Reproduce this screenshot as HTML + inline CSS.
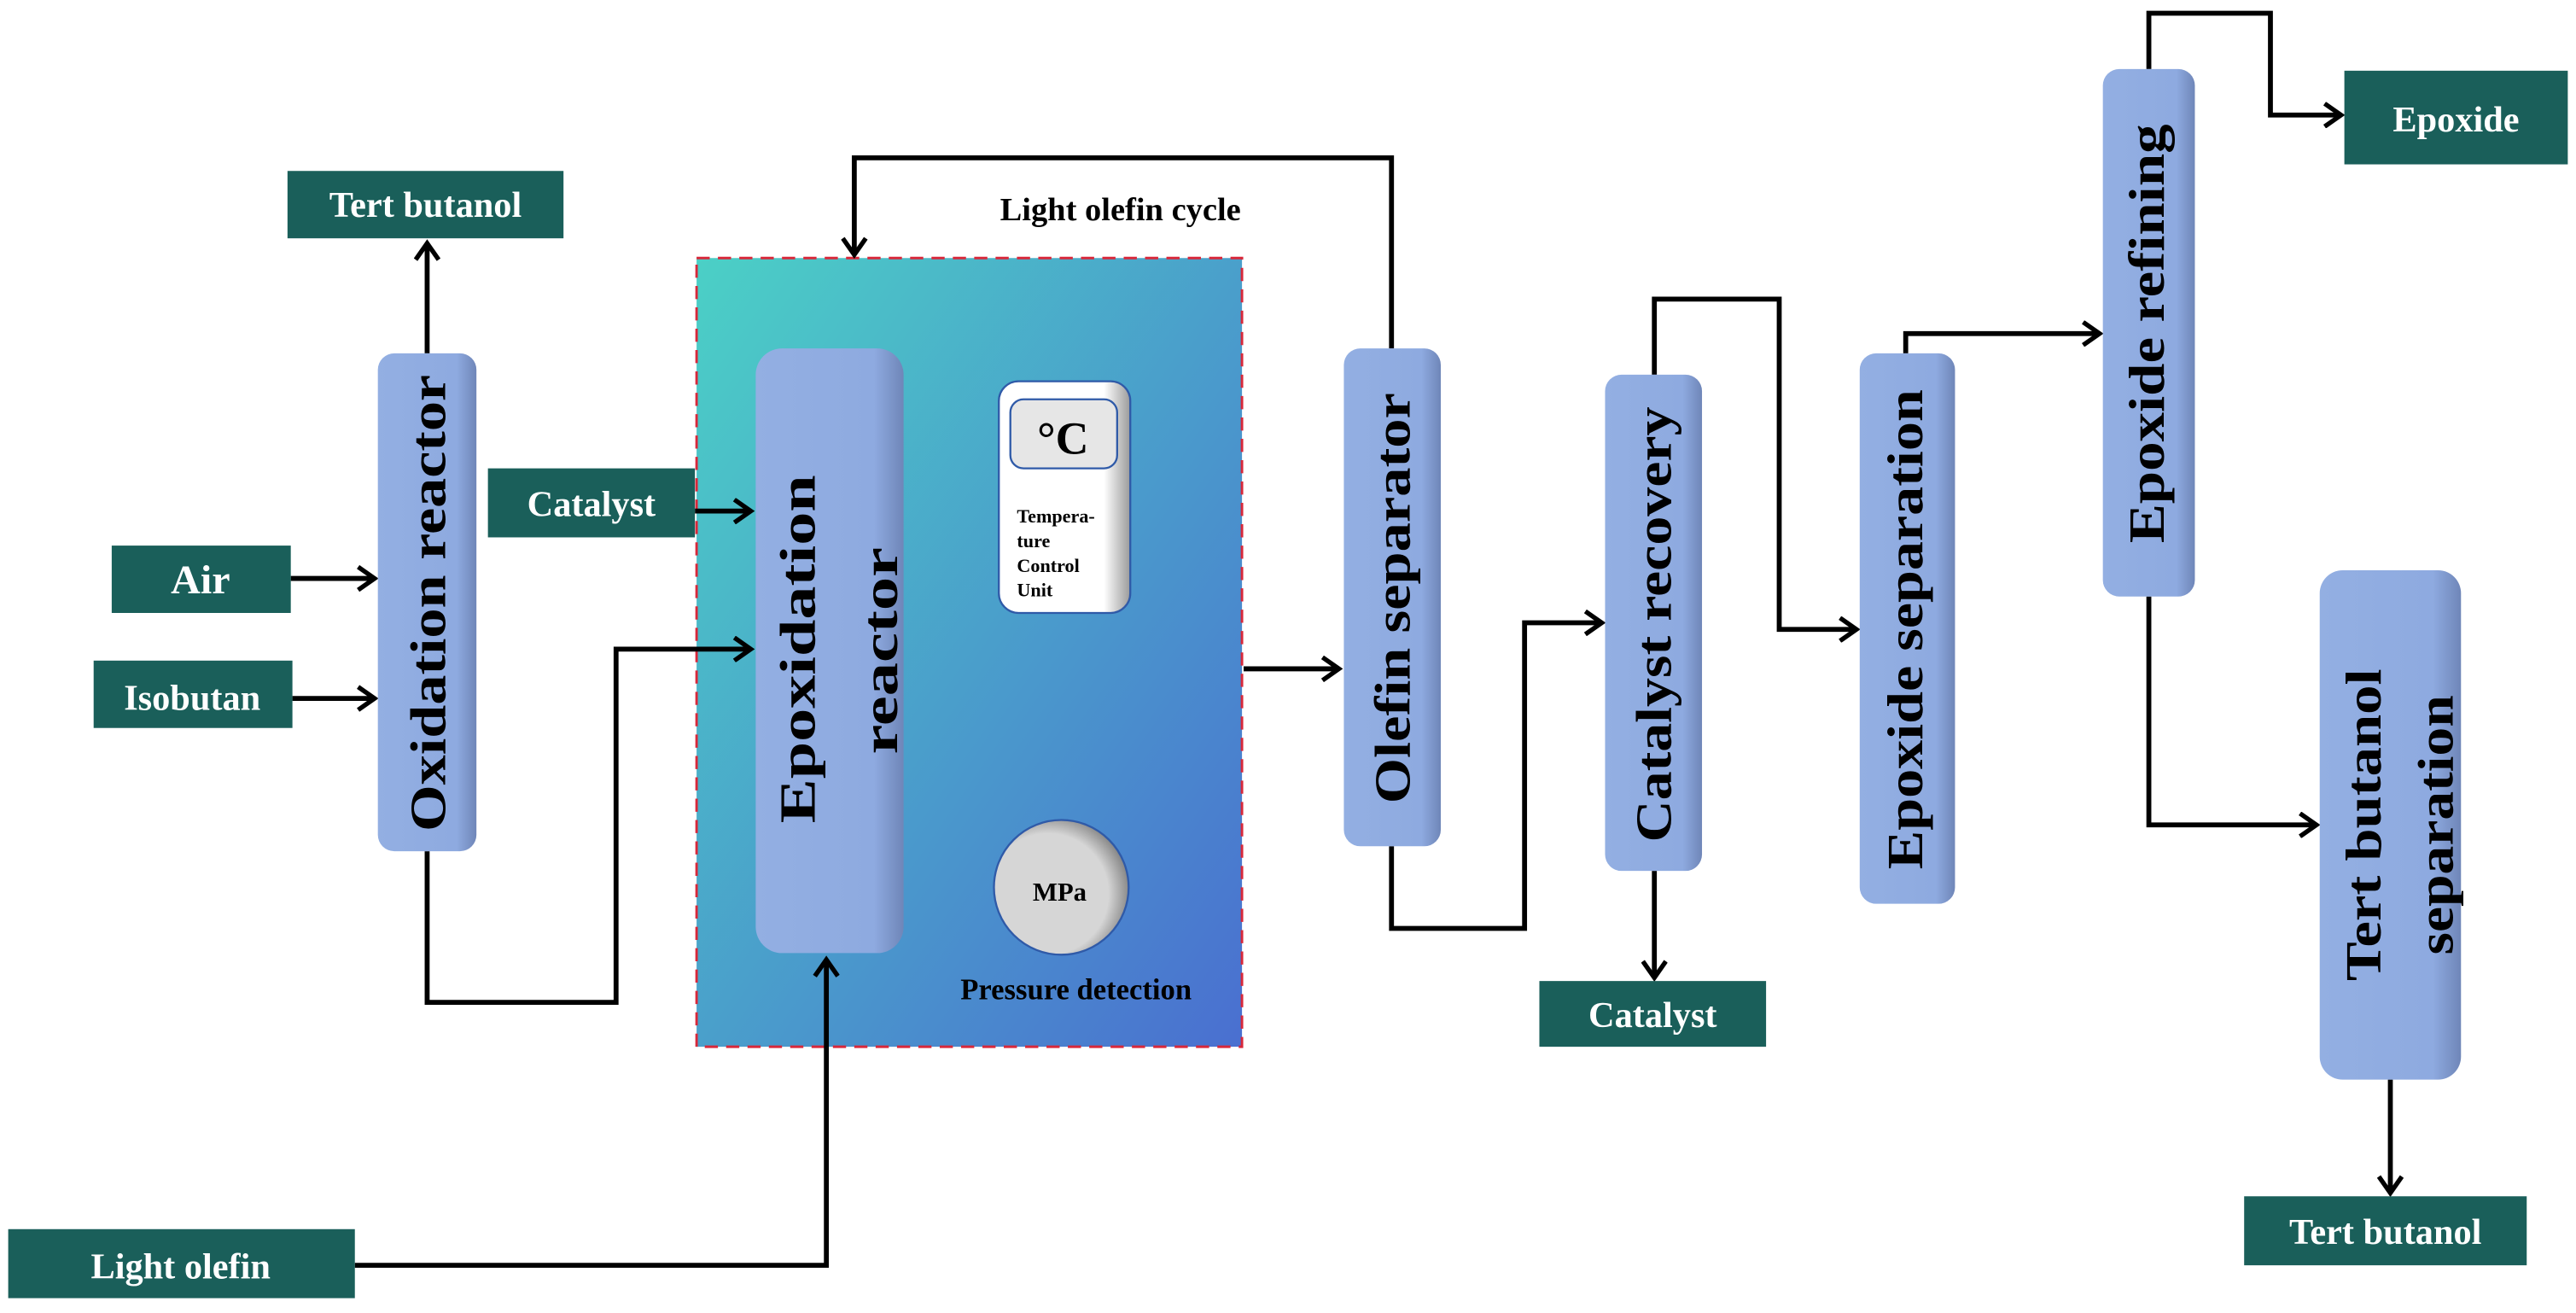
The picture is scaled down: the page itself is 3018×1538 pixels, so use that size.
<!DOCTYPE html>
<html><head><meta charset="utf-8"><style>
html,body{margin:0;padding:0;background:#fff;}
svg{display:block;}
</style></head><body>
<svg width="3018" height="1538" viewBox="0 0 1568 799" xmlns="http://www.w3.org/2000/svg" font-family="'Liberation Serif','DejaVu Serif',serif" font-weight="bold">
<defs>
<linearGradient id="bg" x1="0" y1="0" x2="1" y2="1">
<stop offset="0" stop-color="#4bd0c6"/><stop offset="1" stop-color="#4a6fd0"/>
</linearGradient>
<linearGradient id="col" x1="0" y1="0" x2="1" y2="0">
<stop offset="0" stop-color="#93afe2"/><stop offset="0.8" stop-color="#8eaae0"/><stop offset="1" stop-color="#6f86b8"/>
</linearGradient>
<linearGradient id="wh" x1="0" y1="0" x2="1" y2="0">
<stop offset="0" stop-color="#fff"/><stop offset="0.8" stop-color="#fff"/><stop offset="1" stop-color="#9a9a9a"/>
</linearGradient>
<radialGradient id="gc" cx="0.4" cy="0.55" r="0.6">
<stop offset="0.75" stop-color="#d6d6d6"/><stop offset="1" stop-color="#8a8a8a"/>
</radialGradient>
<marker id="a" markerWidth="14" markerHeight="16" refX="11" refY="8" orient="auto" markerUnits="userSpaceOnUse">
<path d="M1,1 L11,8 L1,15" fill="none" stroke="#000" stroke-width="2.8"/>
</marker>
</defs>

<rect x="424" y="157" width="332" height="480" fill="url(#bg)" stroke="#d8283a" stroke-width="1.5" stroke-dasharray="8,5"/>

<g fill="none" stroke="#000" stroke-width="3">
<path d="M260,215 V148" marker-end="url(#a)"/>
<path d="M177,352 H228" marker-end="url(#a)"/>
<path d="M178,425 H228" marker-end="url(#a)"/>
<path d="M423,311 H457" marker-end="url(#a)"/>
<path d="M260,518 V610 H375 V395 H457" marker-end="url(#a)"/>
<path d="M216,770 H503 V584" marker-end="url(#a)"/>
<path d="M847,212 V96 H520 V155" marker-end="url(#a)"/>
<path d="M757,407 H815" marker-end="url(#a)"/>
<path d="M847,515 V565 H928 V379 H975" marker-end="url(#a)"/>
<path d="M1007,530 V595" marker-end="url(#a)"/>
<path d="M1007,228 V182 H1083 V383 H1130" marker-end="url(#a)"/>
<path d="M1160,215 V203 H1278" marker-end="url(#a)"/>
<path d="M1308,42 V8 H1382 V70 H1425" marker-end="url(#a)"/>
<path d="M1308,363 V502 H1410" marker-end="url(#a)"/>
<path d="M1455,657 V726" marker-end="url(#a)"/>
</g>

<g fill="#1a5f5a">
<rect x="175" y="104" width="168" height="41"/>
<rect x="68" y="332" width="109" height="41"/>
<rect x="57" y="402" width="121" height="41"/>
<rect x="297" y="285" width="126" height="42"/>
<rect x="5" y="748" width="211" height="42"/>
<rect x="937" y="597" width="138" height="40"/>
<rect x="1427" y="43" width="136" height="57"/>
<rect x="1366" y="728" width="172" height="42"/>
</g>
<g fill="#fff" font-size="22" text-anchor="middle">
<text x="259" y="132">Tert butanol</text>
<text x="122" y="361" font-size="25">Air</text>
<text x="117" y="432">Isobutan</text>
<text x="360" y="314">Catalyst</text>
<text x="110" y="778">Light olefin</text>
<text x="1006" y="625">Catalyst</text>
<text x="1495" y="80">Epoxide</text>
<text x="1452" y="757">Tert butanol</text>
</g>

<g fill="url(#col)">
<rect x="230" y="215" width="60" height="303" rx="10"/>
<rect x="460" y="212" width="90" height="368" rx="16"/>
<rect x="818" y="212" width="59" height="303" rx="10"/>
<rect x="977" y="228" width="59" height="302" rx="10"/>
<rect x="1132" y="215" width="58" height="335" rx="10"/>
<rect x="1280" y="42" width="56" height="321" rx="10"/>
<rect x="1412" y="347" width="86" height="310" rx="14"/>
</g>
<g fill="#000" font-size="31">
<text transform="translate(271,367) rotate(-90)" text-anchor="middle" textLength="278" lengthAdjust="spacingAndGlyphs">Oxidation reactor</text>
<text transform="translate(496,395) rotate(-90)" text-anchor="middle" textLength="212" lengthAdjust="spacingAndGlyphs">Epoxidation</text>
<text transform="translate(546,396) rotate(-90)" text-anchor="middle" textLength="126" lengthAdjust="spacingAndGlyphs">reactor</text>
<text transform="translate(858,364) rotate(-90)" text-anchor="middle" textLength="250" lengthAdjust="spacingAndGlyphs">Olefin separator</text>
<text transform="translate(1017,380) rotate(-90)" text-anchor="middle" textLength="265" lengthAdjust="spacingAndGlyphs">Catalyst recovery</text>
<text transform="translate(1170,383) rotate(-90)" text-anchor="middle" textLength="292" lengthAdjust="spacingAndGlyphs">Epoxide separation</text>
<text transform="translate(1317,203) rotate(-90)" text-anchor="middle" textLength="255" lengthAdjust="spacingAndGlyphs">Epoxide refining</text>
<text transform="translate(1449,502) rotate(-90)" text-anchor="middle" textLength="190" lengthAdjust="spacingAndGlyphs">Tert butanol</text>
<text transform="translate(1493,502) rotate(-90)" text-anchor="middle" textLength="158" lengthAdjust="spacingAndGlyphs">separation</text>
</g>

<rect x="608" y="232" width="80" height="141" rx="12" fill="url(#wh)" stroke="#2f5aa8" stroke-width="1.2"/>
<rect x="615" y="243" width="65" height="42" rx="8" fill="#e6e6e6" stroke="#2f5aa8" stroke-width="1.2"/>
<text x="647" y="276" font-size="28" text-anchor="middle">°C</text>
<g font-size="11.5">
<text x="619" y="318">Tempera-</text>
<text x="619" y="333">ture</text>
<text x="619" y="348">Control</text>
<text x="619" y="363">Unit</text>
</g>

<circle cx="646" cy="540" r="41" fill="url(#gc)" stroke="#2f5aa8" stroke-width="1.2"/>
<text x="645" y="548" font-size="16" text-anchor="middle">MPa</text>
<text x="655" y="608" font-size="18" text-anchor="middle">Pressure detection</text>

<text x="682" y="134" font-size="20" text-anchor="middle">Light olefin cycle</text>
</svg>
</body></html>
